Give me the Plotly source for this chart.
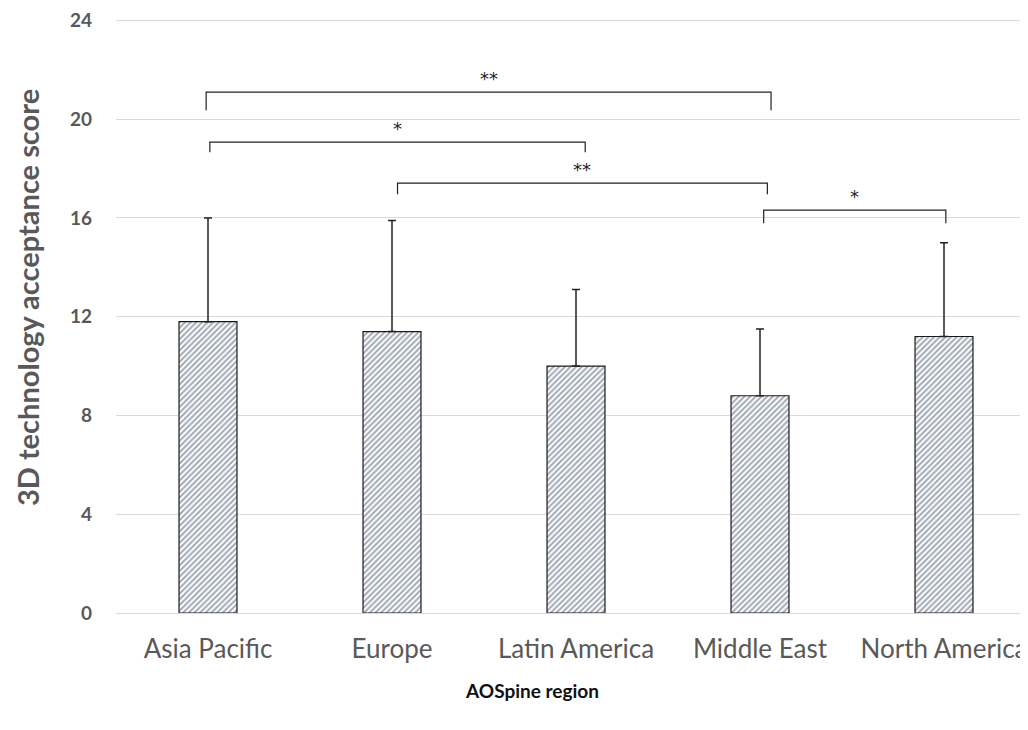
import plotly.graph_objects as go

regions = ["Asia Pacific", "Europe", "Latin America", "Middle East", "North America"]
means = [11.8, 11.4, 10.0, 8.8, 11.2]
sds = [4.2, 4.5, 3.1, 2.7, 3.8]
y_ticks = [0, 4, 8, 12, 16, 20, 24]

# significance brackets
bracket_start = [-0.01, 0.01, 1.03, 3.02]
bracket_end = [3.06, 2.05, 3.04, 4.01]
bracket_top = [21.1, 19.07, 17.41, 16.32]
bracket_leg = [20.36, 18.66, 16.96, 15.79]
bracket_label = ["**", "*", "**", "*"]

GRAY = "#595959"
FONT = "Lato, 'Open Sans', sans-serif"

fig = go.Figure()
fig.add_trace(go.Bar(
    x=list(range(len(regions))), y=means, width=0.315,
    marker=dict(color="white", line=dict(color="#1a1a1a", width=1.2),
                pattern=dict(shape="/", fgcolor="#44546a", bgcolor="white", size=4, solidity=0.5)),
    error_y=dict(type="data", array=sds, arrayminus=[0]*len(sds), symmetric=False,
                 color="#222222", thickness=1.5, width=4),
    showlegend=False,
))

for s, e, t, l, lab in zip(bracket_start, bracket_end, bracket_top, bracket_leg, bracket_label):
    fig.add_trace(go.Scatter(x=[s, s, e, e], y=[l, t, t, l], mode="lines",
                             line=dict(color="#222222", width=1.2),
                             showlegend=False, hoverinfo="skip"))
    fig.add_annotation(x=(s + e) / 2, y=t, text=lab, showarrow=False, yanchor="bottom", yshift=1,
                       font=dict(family="DejaVu Sans", size=18, color="#222222"))

fig.add_annotation(xref="paper", yref="paper", x=0, y=0, yshift=315, xshift=-89, textangle=-90,
                   text="<b>3D technology acceptance score</b>", showarrow=False,
                   xanchor="center", yanchor="middle",
                   font=dict(family=FONT, size=29, color=GRAY))
fig.add_annotation(xref="paper", yref="paper", x=(532 - 116) / (1028 - 116), y=0, yshift=-77,
                   text="<b>AOSpine region</b>", showarrow=False,
                   xanchor="center", yanchor="middle",
                   font=dict(family=FONT, size=19, color="#111111"))

fig.update_layout(
    width=1020, height=722,
    margin=dict(l=108, r=0, t=9.5, b=117, autoexpand=False),
    plot_bgcolor="white", paper_bgcolor="white",
    font=dict(family=FONT, color=GRAY),
    xaxis=dict(range=[-0.5, 4.4565], tickmode="array", tickvals=list(range(len(regions))),
               ticktext=regions, showgrid=False, showline=True, linecolor="#d9d9d9", linewidth=1,
               ticks="", tickfont=dict(size=26, color=GRAY), ticklabelstandoff=13, automargin=False,
               ticklabeloverflow="allow"),
    yaxis=dict(range=[0, 24.1], tickvals=y_ticks, showgrid=True, gridcolor="#d9d9d9", gridwidth=1,
               zeroline=False, showline=False, ticks="", automargin=False, ticklabeloverflow="allow",
               tickfont=dict(size=19, color=GRAY, weight="bold"), ticklabelstandoff=23),
)

fig.write_html("out.html")
